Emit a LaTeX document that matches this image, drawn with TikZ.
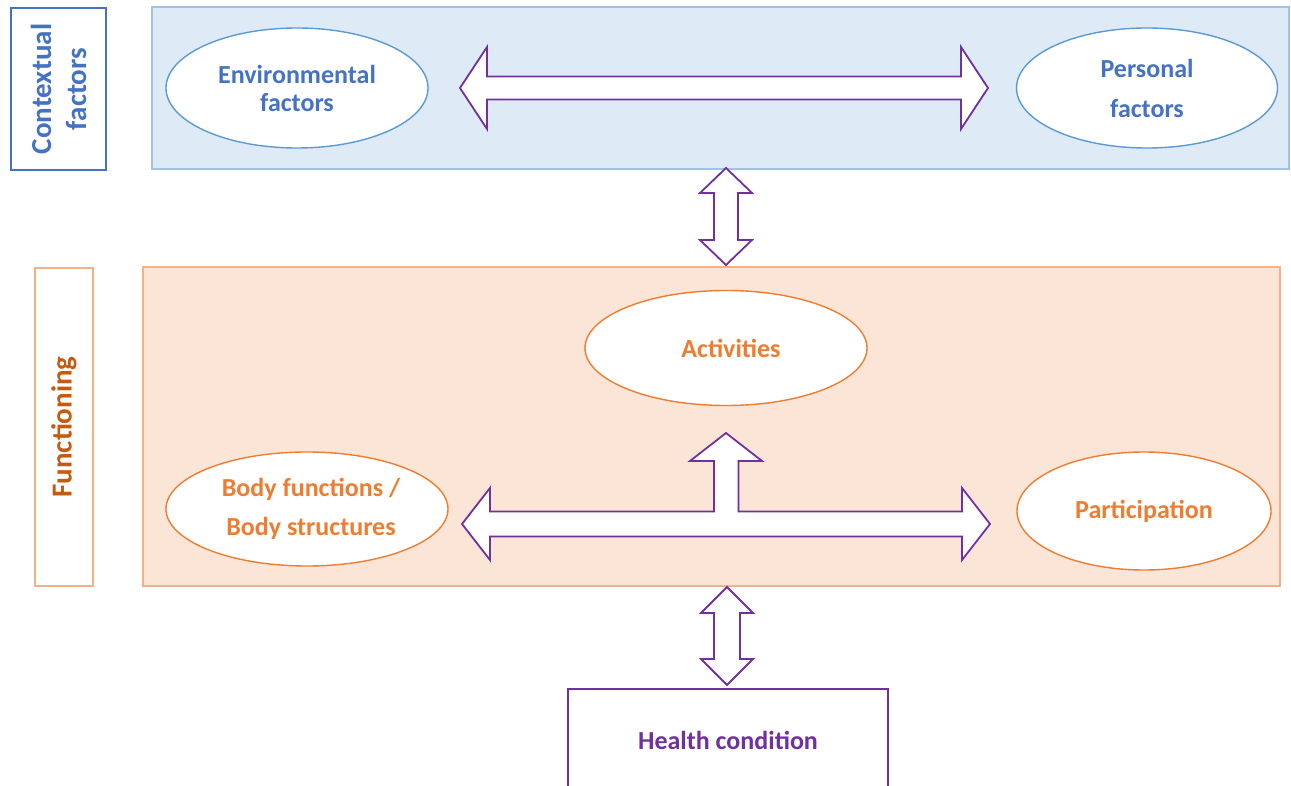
\documentclass[tikz,border=0pt]{standalone}
\usepackage{fontspec}
\setmainfont{Carlito}
\usetikzlibrary{shapes.geometric}
\definecolor{cblue}{HTML}{4472C4}
\definecolor{ebord}{HTML}{5B9BD5}
\definecolor{bpanel}{HTML}{DEEBF7}
\definecolor{bpbord}{HTML}{9DC3E6}
\definecolor{otext}{HTML}{ED7D31}
\definecolor{odark}{HTML}{C55A11}
\definecolor{opanel}{HTML}{FBE5D6}
\definecolor{opbord}{HTML}{F4B183}
\definecolor{purp}{HTML}{7030A0}
% horizontal double block arrow: x1, x2, cy, head length, head half-height, shaft half-height
\newcommand{\hblockarrow}[6]{%
  \filldraw[blockarrow] (#1,#3) -- (#1+#4,#3-#5) -- (#1+#4,#3-#6) -- (#2-#4,#3-#6) -- (#2-#4,#3-#5) -- (#2,#3)
    -- (#2-#4,#3+#5) -- (#2-#4,#3+#6) -- (#1+#4,#3+#6) -- (#1+#4,#3+#5) -- cycle;}
% vertical double block arrow: cx, y1, y2, head length, head half-width, shaft half-width
\newcommand{\vblockarrow}[6]{%
  \filldraw[blockarrow] (#1,#2) -- (#1+#5,#2+#4) -- (#1+#6,#2+#4) -- (#1+#6,#3-#4) -- (#1+#5,#3-#4) -- (#1,#3)
    -- (#1-#5,#3-#4) -- (#1-#6,#3-#4) -- (#1-#6,#2+#4) -- (#1-#5,#2+#4) -- cycle;}
\begin{document}
\begin{tikzpicture}[x=1pt,y=-1pt,
  blockarrow/.style={draw=purp,fill=white,line width=1.8pt,line join=miter},
  sidebox/.style={draw,fill=white,inner sep=0pt},
  panel/.style={draw,line width=1.3pt,inner sep=0pt},
  oval/.style={ellipse,draw,fill=white,line width=1.4pt,inner sep=0pt,align=center,font=\bfseries},
]
\clip (0,0) rectangle (1291,786);
\fill[white] (0,0) rectangle (1291,786);

% contextual factors
\node[sidebox,draw=cblue,line width=1.8pt,minimum width=95pt,minimum height=162pt] (ctx) at (58.5,89) {};
\node[rotate=90,text=cblue,align=center,font=\fontsize{29}{35}\selectfont\bfseries] (ctxt) at (ctx.center) {Contextual\\factors};
\node[panel,draw=bpbord,fill=bpanel,minimum width=1137pt,minimum height=162pt] (bpan) at (720.5,88) {};
\node[oval,draw=ebord,text=cblue,minimum width=262pt,minimum height=120pt,font=\fontsize{26}{28}\selectfont\bfseries] (env) at (297,88) {Environmental\\factors};
\node[oval,draw=ebord,text=cblue,minimum width=261pt,minimum height=120pt,font=\fontsize{26}{40}\selectfont\bfseries] (pers) at (1147,88) {Personal\\factors};

% functioning
\node[sidebox,draw=opbord,line width=1.4pt,minimum width=58pt,minimum height=318pt] (fun) at (64,427) {};
\node[rotate=90,text=odark,font=\fontsize{29}{35}\selectfont\bfseries] (funt) at (fun.center) {Functioning};
\node[panel,draw=opbord,fill=opanel,minimum width=1137pt,minimum height=319pt] (opan) at (711.5,426.5) {};
\node[oval,draw=otext,text=otext,minimum width=282pt,minimum height=115pt,font=\fontsize{26}{28}\selectfont\bfseries] (act) at (726,348) {\hspace*{10pt}Activities};
\node[oval,draw=otext,text=otext,minimum width=282pt,minimum height=114pt,font=\fontsize{26}{39}\selectfont\bfseries] (body) at (307,509) {\hspace*{8pt}Body functions /\\\hspace*{8pt}Body structures};
\node[oval,draw=otext,text=otext,minimum width=254pt,minimum height=118pt,font=\fontsize{26}{28}\selectfont\bfseries] (part) at (1144,511) {Participation};

% health condition
\node[draw=purp,line width=2.8pt,fill=white,minimum width=320pt,minimum height=102pt,text=purp,font=\fontsize{26}{28}\selectfont\bfseries] (hc) at (728,740) {Health condition};

% block arrows
\hblockarrow{460}{988}{88}{27}{41}{11.5}
\vblockarrow{726}{168}{265}{25}{26}{12}
\vblockarrow{727}{587}{685}{26}{26}{13}
% T-shaped arrow
\filldraw[blockarrow] (462,524) -- (490,488) -- (490,511.5) -- (714,511.5) -- (714,461) -- (690,461) -- (726,433)
  -- (762,461) -- (738.5,461) -- (738.5,511.5) -- (962,511.5) -- (962,488) -- (990,524) -- (962,560) -- (962,536.5)
  -- (490,536.5) -- (490,560) -- cycle;
\end{tikzpicture}
\end{document}
